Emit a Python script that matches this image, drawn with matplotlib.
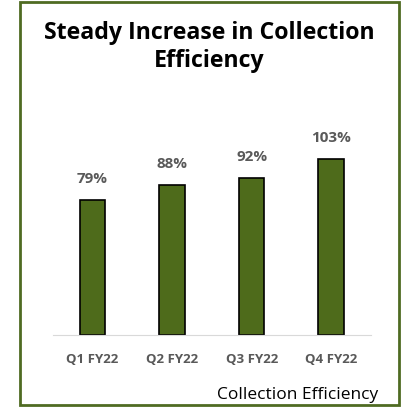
import matplotlib.pyplot as plt
from matplotlib.patches import Rectangle

quarters = ["Q1 FY22", "Q2 FY22", "Q3 FY22", "Q4 FY22"]
efficiency = [79, 88, 92, 103]
barLabels = ["79%", "88%", "92%", "103%"]

plt.rcParams['font.family'] = ['Open Sans', 'DejaVu Sans']

fig = plt.figure(figsize=(4.01, 4.07), dpi=100)

# green frame round the chart
fig.patches.append(Rectangle((20 / 401, 2 / 407), 379 / 401, 403 / 407, transform=fig.transFigure,
	fill=False, edgecolor='#4f6b22', linewidth=2))

ax = fig.add_axes([52.7 / 401, 72 / 407, 318.3 / 401, 205 / 407])
x = range(len(quarters))
bars = ax.bar(x, efficiency, width=0.32, color='#4e6b1b', edgecolor='black', linewidth=1.2)
ax.bar_label(bars, labels=barLabels, padding=10, color='#595959', fontweight='bold', fontsize=11)

ax.set_xlim(-0.5, 3.5)
ax.set_ylim(0, 120)
ax.set_xticks(list(x))
ax.set_xticklabels(quarters, color='#595959', fontweight='bold', fontsize=9.5)
ax.tick_params(axis='x', length=0, pad=13)
ax.set_yticks([])
for s in ['top', 'right', 'left']:
	ax.spines[s].set_visible(False)
ax.spines['bottom'].set_color('#d9d9d9')

fig.text(209 / 401, 1 - 47 / 407, "Steady Increase in Collection\nEfficiency", ha='center', va='center',
	fontsize=16.7, fontweight='bold', linespacing=1.2)
fig.text(378 / 401, 1 - 395 / 407, "Collection Efficiency", ha='right', va='center', fontsize=12.5)

plt.savefig("out.png", dpi=100)
